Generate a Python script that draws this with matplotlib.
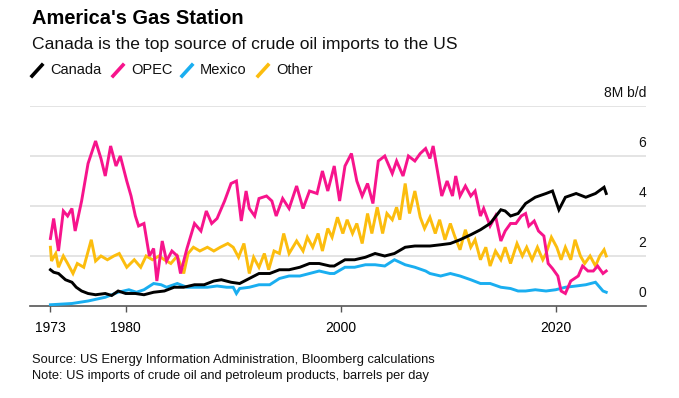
import matplotlib
matplotlib.use("Agg")
import matplotlib.pyplot as plt
from matplotlib.lines import Line2D

plt.rcParams['font.family'] = ['Liberation Sans', 'DejaVu Sans']

# ---- data (million barrels per day) ----
opec_years = [1973.0, 1973.3, 1973.75, 1974.2, 1974.6, 1975.0, 1975.3, 1975.9, 1976.5, 1977.2,
              1977.7, 1978.1, 1978.6, 1979.1, 1979.5, 1980.1, 1980.5, 1980.9, 1981.2, 1981.7,
              1982.2, 1982.6, 1982.9, 1983.4, 1983.8, 1984.3, 1984.8, 1985.1, 1985.7, 1986.4,
              1987.0, 1987.5, 1988.0, 1988.5, 1989.2, 1989.8, 1990.3, 1990.75, 1991.2, 1991.5,
              1992.0, 1992.4, 1993.1, 1993.6, 1994.0, 1994.6, 1995.2, 1995.9, 1996.5, 1997.1,
              1997.8, 1998.3, 1998.8, 1999.4, 1999.9, 2000.4, 2001.0, 2001.5, 2002.0, 2002.5,
              2003.0, 2003.5, 2004.1, 2004.8, 2005.2, 2005.8, 2006.3, 2006.9, 2007.4, 2007.9,
              2008.3, 2008.6, 2009.0, 2009.4, 2009.9, 2010.4, 2010.7, 2011.1, 2011.6, 2012.1,
              2012.5, 2013.0, 2013.3, 2013.9, 2014.4, 2014.9, 2015.3, 2015.8, 2016.3, 2016.8,
              2017.2, 2017.5, 2018.0, 2018.4, 2018.9, 2019.3, 2019.7, 2020.2, 2020.5, 2020.9,
              2021.4, 2022.1, 2022.5, 2023.0, 2023.5, 2023.9, 2024.4, 2024.7]
opec_values = [2.7, 3.5, 2.2, 3.8, 3.6, 3.9, 3.0, 4.2, 5.7, 6.6,
               5.9, 5.2, 6.4, 5.6, 6.0, 5.0, 4.4, 3.6, 3.2, 3.3,
               2.0, 2.3, 1.0, 2.6, 1.8, 2.2, 2.0, 1.3, 2.3, 3.3,
               3.0, 3.8, 3.3, 3.5, 4.2, 4.9, 5.0, 3.4, 4.6, 3.9,
               3.6, 4.3, 4.4, 4.2, 3.6, 4.3, 3.9, 4.8, 3.9, 4.6,
               4.5, 5.4, 4.6, 5.6, 4.2, 5.6, 6.1, 5.0, 4.4, 4.9,
               4.1, 5.8, 6.0, 5.3, 5.8, 5.2, 6.0, 5.8, 6.1, 6.3,
               5.9, 6.4, 5.4, 4.4, 5.0, 4.4, 5.2, 4.4, 4.8, 4.4,
               4.6, 3.6, 3.9, 3.2, 3.6, 2.6, 3.0, 3.3, 3.3, 3.6,
               3.7, 3.2, 3.4, 3.0, 2.8, 1.7, 1.5, 1.2, 0.6, 0.5,
               1.0, 1.2, 1.6, 1.4, 1.4, 1.6, 1.3, 1.4]

canada_years = [1973.0, 1973.3, 1973.75, 1974.4, 1975.0, 1975.4, 1975.9, 1976.5, 1977.2, 1978.1,
                1978.7, 1979.3, 1980.0, 1980.9, 1981.7, 1982.6, 1983.6, 1984.5, 1985.4, 1986.4,
                1987.3, 1988.2, 1988.9, 1989.8, 1990.6, 1991.5, 1992.4, 1993.4, 1994.3, 1995.2,
                1996.2, 1997.1, 1998.0, 1999.0, 1999.4, 2000.4, 2001.3, 2002.3, 2003.2, 2004.1,
                2005.0, 2006.0, 2006.9, 2007.9, 2008.3, 2009.3, 2010.2, 2011.1, 2012.1, 2013.0,
                2013.9, 2014.9, 2015.3, 2015.8, 2016.5, 2017.2, 2018.1, 2019.1, 2019.7, 2020.3,
                2020.9, 2021.9, 2022.8, 2023.7, 2024.5, 2024.7]
canada_values = [1.45, 1.35, 1.3, 1.05, 0.95, 0.75, 0.6, 0.5, 0.45, 0.5,
                 0.42, 0.6, 0.5, 0.5, 0.45, 0.55, 0.6, 0.75, 0.75, 0.85,
                 0.85, 1.0, 1.05, 0.95, 0.9, 1.1, 1.3, 1.3, 1.45, 1.45,
                 1.55, 1.7, 1.7, 1.6, 1.6, 1.85, 1.85, 1.95, 2.1, 2.0,
                 2.1, 2.35, 2.4, 2.4, 2.4, 2.45, 2.5, 2.65, 2.85, 3.05,
                 3.3, 3.85, 3.8, 3.6, 3.7, 4.1, 4.35, 4.5, 4.6, 3.85,
                 4.35, 4.5, 4.35, 4.5, 4.75, 4.5]

mexico_years = [1973.0, 1975.0, 1976.5, 1978.1, 1979.3, 1980.3, 1981.0, 1981.7, 1982.6, 1983.3,
                1983.8, 1984.8, 1985.7, 1986.6, 1987.6, 1988.5, 1989.4, 1990.0, 1990.3, 1990.6,
                1991.5, 1992.4, 1993.4, 1994.3, 1995.2, 1996.2, 1997.1, 1998.0, 1999.0, 1999.4,
                2000.4, 2001.3, 2002.3, 2003.2, 2004.1, 2005.0, 2006.0, 2006.9, 2007.9, 2008.3,
                2009.3, 2010.2, 2011.1, 2012.1, 2013.0, 2013.9, 2014.9, 2015.8, 2016.5, 2017.2,
                2018.1, 2019.1, 2020.0, 2020.9, 2021.9, 2022.8, 2023.7, 2024.4, 2024.7]
mexico_values = [0.05, 0.1, 0.2, 0.35, 0.55, 0.65, 0.55, 0.65, 0.9, 0.85,
                 0.75, 0.9, 0.75, 0.75, 0.75, 0.8, 0.75, 0.75, 0.5, 0.7,
                 0.75, 0.85, 0.85, 1.1, 1.2, 1.2, 1.3, 1.4, 1.3, 1.3,
                 1.55, 1.55, 1.65, 1.65, 1.6, 1.85, 1.65, 1.55, 1.4, 1.3,
                 1.2, 1.3, 1.2, 1.05, 0.9, 0.9, 0.75, 0.7, 0.6, 0.6,
                 0.65, 0.6, 0.65, 0.75, 0.8, 0.85, 0.95, 0.6, 0.55]

other_years = [1973.0, 1973.1, 1973.5, 1973.75, 1974.2, 1974.6, 1975.1, 1975.5, 1976.1, 1976.8,
               1977.2, 1977.7, 1978.3, 1978.9, 1979.4, 1980.1, 1980.8, 1981.4, 1981.9, 1982.5,
               1983.1, 1983.6, 1984.2, 1984.8, 1985.4, 1985.8, 1986.3, 1986.9, 1987.6, 1988.2,
               1988.8, 1989.5, 1990.0, 1990.5, 1991.0, 1991.5, 1991.9, 1992.4, 1992.9, 1993.3,
               1993.8, 1994.3, 1994.7, 1995.2, 1995.9, 1996.5, 1996.9, 1997.4, 1997.9, 1998.3,
               1998.8, 1999.2, 1999.7, 2000.2, 2000.6, 2001.1, 2001.5, 2002.0, 2002.5, 2002.9,
               2003.4, 2003.9, 2004.3, 2004.8, 2005.2, 2005.5, 2006.0, 2006.4, 2006.9, 2007.4,
               2007.8, 2008.3, 2008.8, 2009.2, 2009.7, 2010.2, 2010.6, 2011.1, 2011.6, 2012.1,
               2012.5, 2013.0, 2013.5, 2013.9, 2014.4, 2014.9, 2015.3, 2015.8, 2016.4, 2016.9,
               2017.3, 2017.8, 2018.3, 2018.8, 2019.1, 2019.6, 2020.1, 2020.5, 2020.9, 2021.4,
               2021.8, 2022.3, 2022.7, 2023.2, 2023.7, 2024.1, 2024.5, 2024.7]
other_values = [2.35, 1.8, 2.1, 1.55, 2.0, 1.7, 1.3, 1.7, 1.55, 2.65,
                1.8, 2.0, 1.85, 2.0, 2.1, 1.55, 1.85, 1.55, 2.0, 1.85,
                2.0, 1.85, 1.7, 2.0, 1.3, 2.1, 2.35, 2.2, 2.35, 2.2,
                2.35, 2.5, 2.35, 1.95, 2.5, 1.3, 1.95, 1.55, 2.1, 1.45,
                2.2, 2.1, 2.9, 2.1, 2.6, 2.2, 2.75, 2.35, 2.9, 2.2,
                3.1, 2.75, 3.55, 2.9, 3.45, 2.9, 3.3, 2.5, 3.7, 2.9,
                3.95, 2.9, 3.7, 3.45, 3.95, 3.45, 4.9, 3.7, 4.6, 3.55,
                3.1, 3.55, 2.9, 3.45, 2.65, 3.3, 2.8, 2.25, 3.05, 2.35,
                2.65, 1.85, 2.35, 1.6, 2.2, 1.85, 2.35, 1.7, 2.5, 2.0,
                2.35, 1.85, 2.35, 1.85, 2.1, 2.75, 2.35, 1.85, 2.35, 1.85,
                2.65, 2.0, 1.7, 2.0, 1.6, 2.0, 2.25, 2.0]

series_names = ["Canada", "OPEC", "Mexico", "Other"]
colors = {"Canada": "#000000", "OPEC": "#f7148c", "Mexico": "#1aaef0", "Other": "#fcbd0e"}

xtick_years = [1973, 1980, 2000, 2020]
ytick_values = [0, 2, 4, 6, 8]
ytick_labels = ["0", "2", "4", "6", "8M b/d"]

# ---- figure ----
W, H = 679, 398
fig = plt.figure(figsize=(W / 100, H / 100), dpi=100)

def fx(px):
    return px / W

def fy(py):
    return 1 - py / H

ax_left, ax_right, ax_top, ax_bottom = 30, 646, 106, 306
ax = fig.add_axes([fx(ax_left), fy(ax_bottom), fx(ax_right - ax_left), (ax_bottom - ax_top) / H])
ax.set_xlim(1971.1, 2028.4)
ax.set_ylim(0, 8)

for v in ytick_values[1:]:
    ax.axhline(v, color="#dcdcdc", lw=1.1, zorder=1)

lw = 2.1
ax.plot(other_years, other_values, color=colors["Other"], lw=lw, zorder=2, solid_joinstyle="miter")
ax.plot(mexico_years, mexico_values, color=colors["Mexico"], lw=lw, zorder=3, solid_joinstyle="miter")
ax.plot(opec_years, opec_values, color=colors["OPEC"], lw=lw, zorder=4, solid_joinstyle="miter")
ax.plot(canada_years, canada_values, color=colors["Canada"], lw=lw, zorder=5, solid_joinstyle="miter")

for s in ["top", "right", "left"]:
    ax.spines[s].set_visible(False)
ax.spines["bottom"].set_color("#555555")
ax.spines["bottom"].set_linewidth(1.2)
ax.set_yticks([])
ax.set_xticks(xtick_years)
ax.set_xticklabels([str(y) for y in xtick_years], fontsize=10)
ax.tick_params(axis="x", length=4, width=1, color="#555555", pad=7)

# y labels (right-aligned, above grid lines)
for v, lab in zip(ytick_values, ytick_labels):
    ax.annotate(lab, xy=(1, v), xycoords=("axes fraction", "data"),
                xytext=(0, 4), textcoords="offset points",
                ha="right", va="bottom", fontsize=10, color="#111111")

# titles
fig.text(fx(32), fy(19), "America's Gas Station", fontsize=14.4, fontweight="bold",
         ha="left", va="center", color="#000000")
fig.text(fx(32), fy(45), "Canada is the top source of crude oil imports to the US", fontsize=12.6,
         ha="left", va="center", color="#111111")

# legend
leg_x = [32, 113, 182, 258]
for name, x0 in zip(series_names, leg_x):
    fig.add_artist(Line2D([fx(x0), fx(x0 + 10)], [fy(76), fy(65)], color=colors[name], lw=2.6,
                          transform=fig.transFigure))
    fig.text(fx(x0 + 18), fy(70.5), name, fontsize=10.5, ha="left", va="center", color="#111111")

# notes
fig.text(fx(32), fy(360), "Source: US Energy Information Administration, Bloomberg calculations",
         fontsize=9.3, ha="left", va="center", color="#111111")
fig.text(fx(32), fy(376), "Note: US imports of crude oil and petroleum products, barrels per day",
         fontsize=9.3, ha="left", va="center", color="#111111")

fig.savefig("out.png", dpi=100)
